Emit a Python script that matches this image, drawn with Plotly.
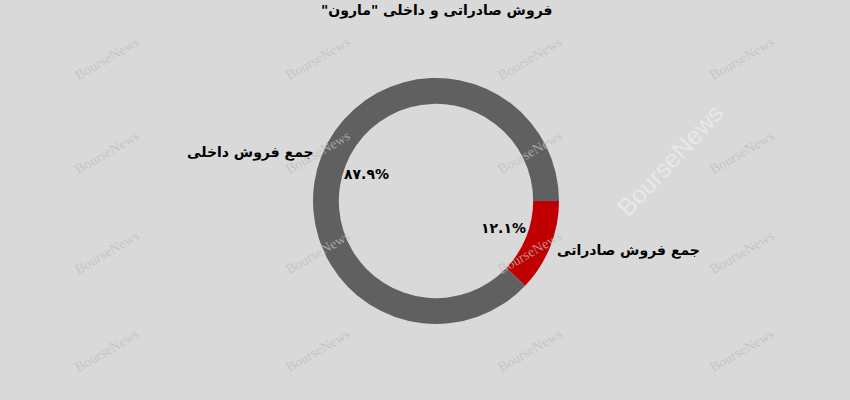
import plotly.graph_objects as go

title_text = 'فروش صادراتی و داخلی "مارون"'
categories = ["جمع فروش صادراتی", "جمع فروش داخلی"]
values = [12.1, 87.9]
colors = ["#c00000", "#606060"]

W, H = 850, 400
cx, cy, R = 436, 201, 123

fa = str.maketrans("0123456789", "۰۱۲۳۴۵۶۷۸۹")
total = sum(values)
pct_text = [f"{v / total * 100:.1f}%".translate(fa) for v in values]

fig = go.Figure()
fig.add_trace(go.Pie(
    labels=categories,
    values=values,
    marker=dict(colors=colors, line=dict(width=0)),
    hole=0.79,
    sort=False,
    direction="clockwise",
    rotation=90,
    textinfo="none",
    hoverinfo="label+percent",
    showlegend=False,
    domain=dict(x=[(cx - R) / W, (cx + R) / W], y=[(H - cy - R) / H, (H - cy + R) / H]),
))


def px_ann(x, y, text, font, angle=0):
    return dict(x=x / W, y=1 - y / H, xref="paper", yref="paper", text=text,
                showarrow=False, textangle=angle, xanchor="center", yanchor="middle",
                font=font)


RLM = "\u200f"
ann = []
# watermarks
wm_x = [107, 318, 530, 742]
wm_y = [58, 152, 252, 350]
for yy in wm_y:
    for xx in wm_x:
        ann.append(px_ann(xx, yy, "BourseNews",
                          dict(family="Liberation Serif", size=14, color="rgba(190,190,190,0.75)"), -30))
ann.append(px_ann(670, 160, "BourseNews",
                  dict(family="Liberation Sans", size=25, color="rgba(240,240,240,0.7)"), -47))

# category labels
label_pos = [(628, 251), (250, 152)]
for (lx, ly), t in zip(label_pos, categories):
    ann.append(px_ann(lx, ly, f"<b>{t}</b>", dict(family="DejaVu Sans", size=14, color="#000000")))
# percent labels
pct_pos = [(504, 228), (366, 174)]
for (px, py), t in zip(pct_pos, pct_text):
    ann.append(px_ann(px, py, f"<b>{t}</b>", dict(family="DejaVu Sans", size=14, color="#000000")))
# title
ann.append(px_ann(437, 11, f"<b>{RLM}{title_text}{RLM}</b>",
                  dict(family="DejaVu Sans", size=14, color="#000000")))

fig.update_layout(
    width=W, height=H,
    margin=dict(l=0, r=0, t=0, b=0),
    paper_bgcolor="#d9d9d9",
    plot_bgcolor="#d9d9d9",
    annotations=ann,
)

fig.write_html("out.html", config={"displayModeBar": False},
               post_script="document.body.style.margin='0';document.body.style.padding='0';")
